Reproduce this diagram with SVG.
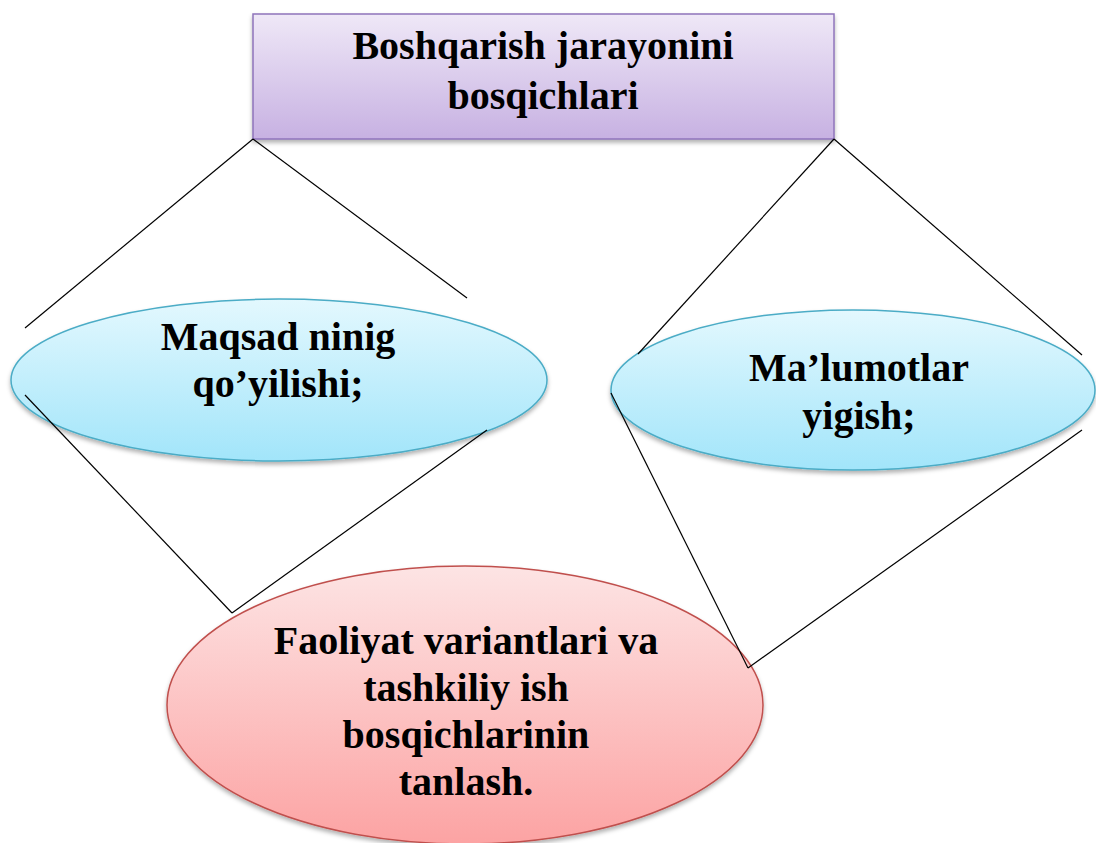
<svg xmlns="http://www.w3.org/2000/svg" width="1096" height="843" viewBox="0 0 1096 843">
  <defs>
    <linearGradient id="gPurple" x1="0" y1="0" x2="0" y2="1">
      <stop offset="0" stop-color="#efe8f7"/>
      <stop offset="1" stop-color="#c7b1e2"/>
    </linearGradient>
    <linearGradient id="gBlue" x1="0" y1="0" x2="0" y2="1">
      <stop offset="0" stop-color="#e3f8fe"/>
      <stop offset="1" stop-color="#a2e5fa"/>
    </linearGradient>
    <linearGradient id="gRed" x1="0" y1="0" x2="0" y2="1">
      <stop offset="0" stop-color="#fde4e4"/>
      <stop offset="1" stop-color="#fca3a3"/>
    </linearGradient>
    <filter id="shadow" x="-10%" y="-10%" width="120%" height="130%">
      <feDropShadow dx="0" dy="3" stdDeviation="2" flood-color="#000" flood-opacity="0.3"/>
    </filter>
  </defs>
  <style>
    .label { font-family: "Liberation Serif", "Times New Roman", serif; font-weight: bold; font-size: 40px; fill: #000; text-anchor: middle; }
    .link { stroke: #000; stroke-width: 1.2; fill: none; }
  </style>
  <rect width="1096" height="843" fill="#fff"/>

  <g id="node-top">
    <rect x="253" y="14" width="581" height="125" fill="url(#gPurple)" stroke="#8f74bb" stroke-width="1.5" filter="url(#shadow)"/>
    <text class="label" x="543" y="59">Boshqarish jarayonini</text>
    <text class="label" x="543" y="109">bosqichlari</text>
  </g>

  <g id="node-goal">
    <ellipse cx="279" cy="380" rx="268" ry="81" fill="url(#gBlue)" stroke="#4bacc6" stroke-width="1.5" filter="url(#shadow)"/>
    <text class="label" x="278" y="350">Maqsad ninig</text>
    <text class="label" x="278" y="397">qo’yilishi;</text>
  </g>

  <g id="node-data">
    <ellipse cx="853" cy="390" rx="242" ry="80" fill="url(#gBlue)" stroke="#4bacc6" stroke-width="1.5" filter="url(#shadow)"/>
    <text class="label" x="859" y="381">Ma’lumotlar</text>
    <text class="label" x="859" y="429">yigish;</text>
  </g>

  <g id="node-choice">
    <ellipse cx="465" cy="705" rx="298" ry="139" fill="url(#gRed)" stroke="#c0504d" stroke-width="1.5" filter="url(#shadow)"/>
    <text class="label" x="466" y="654">Faoliyat variantlari va</text>
    <text class="label" x="466" y="701">tashkiliy ish</text>
    <text class="label" x="466" y="748">bosqichlarinin</text>
    <text class="label" x="466" y="795">tanlash.</text>
  </g>

  <!-- connector lines are drawn over the shapes -->
  <g id="connectors">
    <line class="link" x1="253" y1="139" x2="25" y2="328"/>
    <line class="link" x1="253" y1="139" x2="467" y2="298"/>
    <line class="link" x1="25" y1="395" x2="232" y2="613"/>
    <line class="link" x1="487" y1="430" x2="232" y2="613"/>
    <line class="link" x1="834" y1="139" x2="638" y2="354"/>
    <line class="link" x1="834" y1="139" x2="1082" y2="355"/>
    <line class="link" x1="611" y1="393" x2="748" y2="668"/>
    <line class="link" x1="1082" y1="430" x2="748" y2="668"/>
  </g>
</svg>
